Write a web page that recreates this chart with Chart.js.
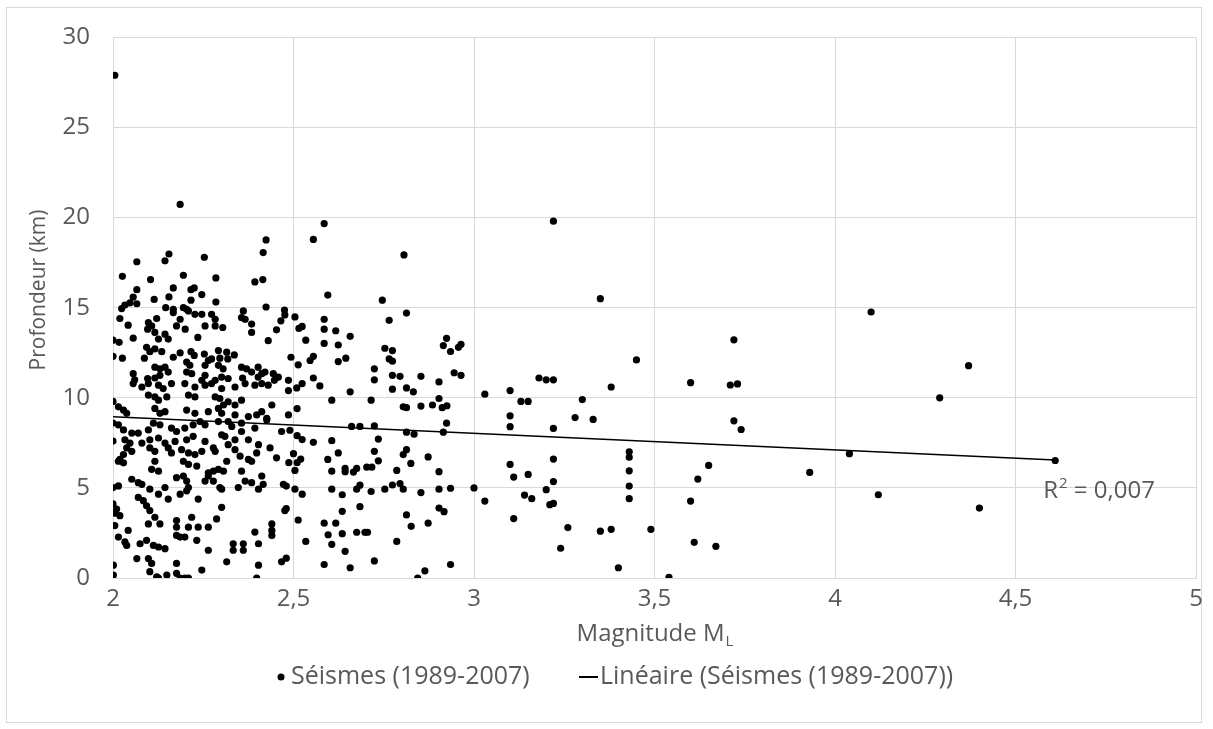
<!DOCTYPE html>
<html>
<head>
<meta charset="utf-8">
<script src="https://cdn.jsdelivr.net/npm/chart.js@4.4.1/dist/chart.umd.min.js"></script>
<style>
  body { margin: 0; background: #fff; }
  canvas { display: block; }
</style>
</head>
<body>
<canvas id="myChart" width="1213" height="729" style="width:1213px;height:729px"></canvas>
<script>
// Séismes (1989-2007): magnitude ML vs profondeur (km)
const magnitude = [
  // x >= 3
  3.00,3.22,3.35,3.45,3.18,3.20,3.22,3.38,3.03,3.10,
  3.13,3.15,3.30,3.10,3.10,3.22,3.28,3.33,3.43,3.43,
  3.43,3.43,3.43,3.10,3.11,3.15,3.22,3.22,3.20,3.14,
  3.16,3.21,3.22,3.03,3.11,3.26,3.35,3.38,3.49,3.24,
  3.40,3.54,3.60,3.65,3.62,3.60,3.61,3.67,3.72,3.71,
  3.73,3.72,3.74,3.93,4.04,4.10,4.12,4.29,4.37,4.40,
  4.61,
  // 2.5 - 3
  2.585,2.555,2.806,2.595,2.746,2.813,2.765,2.476,2.504,2.515,
  2.524,2.585,2.585,2.617,2.657,2.534,2.585,2.624,2.753,2.774,
  2.924,2.915,2.935,2.957,2.964,2.513,2.546,2.555,2.624,2.645,
  2.765,2.774,2.724,2.724,2.774,2.795,2.853,2.903,2.945,2.964,
  2.509,2.524,2.555,2.573,2.774,2.813,2.832,2.657,2.606,2.715,
  2.903,2.804,2.813,2.853,2.885,2.912,2.925,2.924,2.915,2.813,
  2.834,2.661,2.684,2.724,2.486,2.510,2.486,2.490,2.510,2.524,
  2.555,2.606,2.735,2.624,2.724,2.813,2.804,2.873,2.500,2.520,
  2.510,2.487,2.595,2.735,2.825,2.504,2.606,2.643,2.643,2.666,
  2.675,2.703,2.717,2.786,2.903,2.480,2.504,2.524,2.606,2.635,
  2.675,2.684,2.715,2.753,2.774,2.795,2.804,2.853,2.903,2.935,
  2.480,2.684,2.635,2.903,2.917,2.813,2.513,2.585,2.617,2.826,
  2.873,2.596,2.635,2.675,2.698,2.705,2.534,2.606,2.786,2.643,
  2.480,2.585,2.657,2.724,2.935,2.864,2.844,
  // 2 - 2.5, upper
  2.005,2.186,2.424,2.416,2.155,2.144,2.066,2.253,2.195,2.026,
  2.104,2.285,2.393,2.415,2.167,2.066,2.216,2.225,2.246,2.155,
  2.114,2.056,2.047,2.033,2.024,2.066,2.216,2.285,2.424,2.475,
  2.146,2.167,2.195,2.204,2.019,2.042,2.098,2.107,2.096,2.121,
  2.167,2.186,2.176,2.200,2.209,2.227,2.246,2.273,2.283,2.255,
  2.283,2.304,2.361,2.356,2.366,2.384,2.384,2.430,2.453,2.465,
  2.017,2.056,2.116,2.126,2.144,2.153,2.235,2.026,2.093,2.102,
  2.116,2.135,2.167,2.186,2.216,2.225,2.253,2.264,2.255,2.273,
  2.292,2.296,2.315,2.318,2.336,2.087,2.116,2.130,2.144,2.153,
  2.130,2.116,2.204,2.213,2.204,2.218,2.356,2.370,2.384,2.402,
  2.412,2.402,2.421,2.444,2.458,2.447,2.493,2.486,2.056,2.060,
  2.096,2.292,2.305,2.301,2.283,2.319,2.255,2.246,2.359,2.000,
  // 2 - 2.5, lower
  2.056,2.080,2.098,2.126,2.139,2.162,2.199,2.227,2.255,2.273,
  2.301,2.338,2.366,2.393,2.412,2.430,2.098,2.116,2.126,2.149,
  2.209,2.227,2.283,2.296,2.306,2.319,2.338,2.356,2.015,2.029,
  2.038,2.116,2.130,2.144,2.204,2.227,2.264,2.292,2.301,2.338,
  2.375,2.398,2.412,2.426,2.440,2.015,2.029,2.052,2.070,2.098,
  2.112,2.130,2.162,2.176,2.199,2.222,2.241,2.255,2.292,2.319,
  2.329,2.356,2.393,2.426,2.467,2.033,2.047,2.080,2.102,2.126,
  2.144,2.172,2.204,2.222,2.255,2.301,2.310,2.338,2.356,2.375,
  2.403,2.019,2.029,2.038,2.052,2.102,2.116,2.153,2.162,2.190,
  2.209,2.227,2.246,2.278,2.283,2.319,2.338,2.352,2.375,2.398,
  2.435,2.453,2.015,2.029,2.107,2.116,2.126,2.195,2.209,2.232,
  2.264,2.278,2.292,2.306,2.315,2.356,2.384,2.412,2.000,2.015,
  2.052,2.070,2.080,2.102,2.144,2.176,2.195,2.204,2.209,2.204,
  2.255,2.264,2.278,2.296,2.301,2.347,2.366,2.384,2.403,2.416,
  2.472,2.000,2.010,2.070,2.084,2.093,2.102,2.126,2.153,2.186,
  2.236,2.301,2.476,2.005,2.019,2.042,2.098,2.116,2.130,2.176,
  2.176,2.209,2.218,2.236,2.264,2.287,2.440,2.440,2.015,2.033,
  2.038,2.075,2.093,2.112,2.126,2.144,2.176,2.186,2.199,2.232,
  2.264,2.333,2.333,2.361,2.361,2.403,2.440,2.393,2.001,2.066,
  2.098,2.107,2.176,2.246,2.315,2.403,2.467,2.001,2.102,2.121,
  2.126,2.149,2.176,2.186,2.199,2.209,2.398,2.000,2.000,2.000,
  2.000,2.005
];
const depth = [
  // x >= 3
  5.0,19.8,15.5,12.1,11.1,11.0,11.0,10.6,10.2,10.4,
  9.8,9.8,9.9,9.0,8.4,8.3,8.9,8.8,7.0,6.7,
  5.95,5.1,4.4,6.3,5.6,5.75,6.6,5.35,4.9,4.6,
  4.4,4.07,4.14,4.27,3.3,2.8,2.6,2.7,2.7,1.65,
  0.57,0.04,10.84,6.25,5.49,4.27,1.98,1.76,13.22,10.71,
  10.77,8.72,8.24,5.86,6.9,14.76,4.62,10.0,11.78,3.88,
  6.52,
  // 2.5 - 3
  19.67,18.79,17.93,15.70,15.42,14.70,14.30,14.60,14.49,13.85,
  13.96,14.36,13.81,13.72,13.41,13.20,13.02,12.93,12.75,12.62,
  13.30,12.90,12.57,12.80,12.97,11.83,12.07,12.30,12.01,12.20,
  12.16,12.03,11.61,11.00,11.25,11.19,11.19,10.88,11.39,11.25,
  10.55,10.79,11.10,10.66,10.48,10.55,10.33,10.33,9.87,9.87,
  9.96,9.50,9.45,9.54,9.60,9.45,9.56,8.59,8.09,8.09,
  7.98,8.41,8.41,8.44,9.05,9.40,10.40,8.20,7.90,7.68,
  7.53,7.62,7.71,6.94,7.03,7.12,6.85,6.72,6.90,6.60,
  6.40,6.40,6.58,6.50,6.36,5.97,5.93,6.08,5.90,5.88,
  6.08,6.15,6.15,5.97,5.90,5.10,4.93,4.65,4.93,4.62,
  4.93,5.15,4.80,4.93,5.16,5.24,4.93,4.74,4.93,4.98,
  3.85,3.96,3.70,3.88,3.68,3.50,3.22,3.04,3.04,2.87,
  3.04,2.40,2.46,2.54,2.54,2.54,2.03,1.87,2.03,1.48,
  1.10,0.75,0.57,0.95,0.75,0.40,0.00,
  // 2 - 2.5, upper
  27.90,20.73,18.76,18.06,17.98,17.60,17.55,17.80,16.80,16.74,
  16.56,16.65,16.43,16.56,16.10,16.00,16.00,16.10,15.73,15.60,
  15.46,15.59,15.27,15.15,14.95,15.22,15.42,15.31,15.04,14.87,
  15.00,14.91,15.00,14.91,14.40,14.03,14.18,13.99,13.81,14.40,
  14.73,14.36,13.99,13.81,14.82,14.63,14.63,14.63,14.36,13.99,
  13.99,13.90,14.82,14.45,14.36,14.09,13.63,13.17,13.77,14.27,
  13.08,13.31,13.63,13.26,13.53,13.26,13.35,12.20,12.80,12.56,
  12.71,12.56,12.25,12.49,12.56,12.35,12.43,12.07,11.80,12.16,
  12.62,12.20,12.53,12.16,12.38,12.20,11.70,11.61,11.70,11.43,
  11.25,11.10,11.98,11.80,11.43,11.34,11.70,11.61,11.43,11.70,
  11.34,11.15,11.43,11.34,11.15,10.97,12.25,10.97,11.34,11.00,
  11.07,11.80,11.61,11.15,10.97,11.07,11.25,10.97,11.10,13.20,
  // 2 - 2.5, lower
  10.79,10.60,10.79,10.70,10.51,10.79,10.79,10.60,10.70,10.79,
  10.51,10.60,10.79,10.70,10.79,10.70,10.15,10.05,9.87,10.05,
  10.15,10.05,10.05,9.96,9.60,9.78,9.60,9.87,9.50,9.32,
  9.14,9.41,9.14,9.23,9.32,9.14,9.23,9.41,9.14,9.05,
  8.96,9.05,9.23,8.86,9.60,8.50,8.22,8.04,8.04,8.22,
  8.59,8.50,8.32,8.13,8.32,8.50,8.68,8.50,8.68,8.68,
  8.41,8.59,8.32,8.77,8.13,7.67,7.49,7.49,7.67,7.77,
  7.49,7.58,7.67,7.86,7.58,7.95,7.86,7.67,8.13,7.67,
  7.40,6.58,6.85,7.22,7.03,7.22,7.03,7.22,6.94,7.12,
  6.94,6.85,7.03,7.22,7.03,7.40,7.12,6.76,6.58,6.94,
  7.22,6.67,6.48,6.39,6.03,6.48,5.93,6.48,6.30,6.21,
  5.84,5.93,6.03,5.93,6.48,5.93,6.48,5.66,5.02,5.11,
  5.48,5.29,5.20,4.93,5.02,5.57,5.66,5.38,5.02,4.84,
  5.38,5.66,5.38,5.02,4.93,5.02,5.38,5.29,4.93,5.20,
  5.20,4.11,3.83,4.47,4.29,4.01,3.74,4.65,4.38,4.65,
  4.38,3.92,3.74,2.91,3.46,2.64,3.00,3.37,3.00,3.19,
  2.82,2.82,3.37,2.82,2.82,3.28,3.00,2.64,2.27,2.00,
  1.81,1.90,2.09,1.81,1.72,1.63,2.36,2.27,2.27,2.09,
  1.54,1.90,1.54,1.90,1.54,1.90,2.36,2.55,0.71,1.08,
  1.08,0.81,0.81,0.44,0.90,0.71,0.90,0.16,0.35,0.07,
  0.00,0.16,0.26,0.00,0.00,0.00,0.00,8.60,7.60,12.30,
  9.80,3.60
];

// linear trend line, ends
const trendX = [2.0, 4.61];
const trendY = [8.95, 6.55];
const r2Label = '0,007';

const seriesName = 'Séismes (1989-2007)';
const trendName = 'Linéaire (Séismes (1989-2007))';
const xTitle = 'Magnitude M';
const xTitleSub = 'L';
const yTitle = 'Profondeur (km)';

const textColor = '#595959';
const gridColor = '#d9d9d9';
const fontFamily = '"Open Sans", sans-serif';
const fontSize = 24;

const points = magnitude.map((m, i) => ({ x: m, y: depth[i] }));
const trend = trendX.map((t, i) => ({ x: t, y: trendY[i] }));

const decimalComma = v => String(v).replace('.', ',');
const font = px => px + 'px ' + fontFamily;

const extras = {
  id: 'extras',
  beforeDraw(chart) {
    const c = chart.ctx;
    c.save();
    c.fillStyle = '#fff';
    c.fillRect(0, 0, chart.width, chart.height);
    c.strokeStyle = gridColor;
    c.lineWidth = 1;
    c.strokeRect(6.5, 7.5, 1195, 715);
    c.restore();
  },
  afterDraw(chart) {
    const c = chart.ctx;
    const a = chart.chartArea;
    const xs = chart.scales.x, ys = chart.scales.y;
    c.save();
    c.fillStyle = textColor;

    // y axis title
    c.save();
    c.translate(39, 290);
    c.rotate(-Math.PI / 2);
    c.textAlign = 'center';
    c.textBaseline = 'middle';
    c.font = font(21);
    c.fillText(yTitle, 0, 0);
    c.restore();

    // x axis title with subscript
    c.textBaseline = 'alphabetic';
    c.font = font(fontSize);
    const w1 = c.measureText(xTitle).width;
    c.font = font(15);
    const w2 = c.measureText(xTitleSub).width;
    let x0 = (a.left + a.right) / 2 - (w1 + w2) / 2;
    c.font = font(fontSize);
    c.fillText(xTitle, x0, 641);
    c.font = font(15);
    c.fillText(xTitleSub, x0 + w1 + 1, 646);

    // R² label next to trend line end
    const ex = xs.getPixelForValue(trendX[1]);
    const ey = ys.getPixelForValue(trendY[1]);
    let rx = ex - 12, ry = ey + 38;
    c.font = font(fontSize);
    c.fillText('R', rx, ry);
    rx += c.measureText('R').width + 1;
    c.font = font(15);
    c.fillText('2', rx, ry - 10);
    rx += c.measureText('2').width;
    c.font = font(fontSize);
    c.fillText(' = ' + r2Label, rx, ry);

    // legend
    const ly = 677;
    c.textBaseline = 'middle';
    c.font = font(25);
    c.fillStyle = '#000';
    c.beginPath();
    c.arc(281, ly, 3.5, 0, Math.PI * 2);
    c.fill();
    c.fillStyle = textColor;
    c.fillText(seriesName, 291, ly);
    c.strokeStyle = '#000';
    c.lineWidth = 2;
    c.beginPath();
    c.moveTo(579, ly);
    c.lineTo(598, ly);
    c.stroke();
    c.fillText(trendName, 600, ly);
    c.restore();
  }
};

let ctx = document.getElementById('myChart').getContext('2d');
let chart = new Chart(ctx, {
  type: 'scatter',
  data: {
    datasets: [{
      label: seriesName,
      data: points,
      backgroundColor: '#000',
      borderColor: '#000',
      borderWidth: 0,
      pointRadius: 3.6,
      order: 2
    }, {
      type: 'line',
      label: trendName,
      data: trend,
      borderColor: '#000',
      borderWidth: 1.6,
      pointRadius: 0,
      fill: false,
      order: 1
    }]
  },
  options: {
    responsive: false,
    animation: false,
    devicePixelRatio: 1,
    layout: { padding: { top: 32, right: 17, left: 0, bottom: 0 } },
    plugins: {
      legend: { display: false },
      tooltip: { enabled: false }
    },
    scales: {
      x: {
        type: 'linear',
        min: 2, max: 5,
        ticks: {
          stepSize: 0.5,
          color: textColor,
          padding: 7,
          font: { family: fontFamily, size: fontSize },
          callback: decimalComma
        },
        grid: { color: gridColor, drawTicks: false },
        border: { color: gridColor },
        afterFit: s => { s.height = 151; }
      },
      y: {
        min: 0, max: 30,
        ticks: {
          stepSize: 5,
          color: textColor,
          padding: 23,
          font: { family: fontFamily, size: fontSize }
        },
        grid: { color: gridColor, drawTicks: false },
        border: { color: gridColor },
        afterFit: s => { s.width = 113; }
      }
    }
  },
  plugins: [extras]
});
</script>
</body>
</html>
